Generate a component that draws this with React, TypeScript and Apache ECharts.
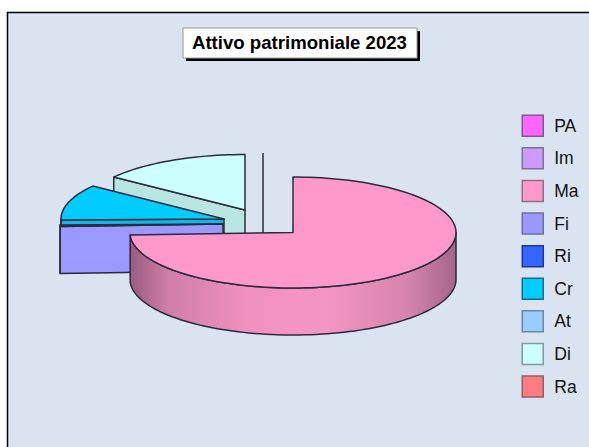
import React, { useEffect, useRef } from "react";
import * as echarts from "echarts";

const categories = ["PA", "Im", "Ma", "Fi", "Ri", "Cr", "At", "Di", "Ra"];
const values = [0, 0, 74.3, 0.4, 0, 10.4, 0, 14.9, 0];
const colors = ["#ff66ff", "#cc99ff", "#ff99cc", "#9999ff", "#3366ff", "#00ccff", "#99ccff", "#ccffff", "#ff7c80"];
const legendBorders = ["#7a5a88", "#7f7090", "#8f7088", "#6f6f98", "#22359a", "#1a6a8a", "#6f86a0", "#7f9aa0", "#8f6068"];
const chartTitle = "Attivo patrimoniale 2023";

const CX = 293;
const CY = 232.5;
const RX = 163;
const RY = 55.5;
const DEPTH = 47;
const EDGE = "#2b2b3d";

// drawing style of each visible slice: displacement, wall colour, stacking
const sliceStyle: Record<string, { dx: number; dy: number; wall: any; z: number }> = {
  Di: { dx: -48, dy: -22.5, wall: "#b8e4e2", z: 2 },
  Ra: { dx: -30, dy: -24, wall: "#ff7c80", z: 3 },
  Cr: { dx: -69, dy: -13.5, wall: "#10b8e8", z: 4 },
  Fi: { dx: -70, dy: -8.5, wall: "#9999ff", z: 5 },
  Ma: {
    dx: 0,
    dy: 0,
    z: 6,
    wall: new echarts.graphic.LinearGradient(0, 0, 1, 0, [
      { offset: 0, color: "#9a5c7e" },
      { offset: 0.12, color: "#cf7fa9" },
      { offset: 0.35, color: "#f090bf" },
      { offset: 0.6, color: "#f496c4" },
      { offset: 0.85, color: "#d684ae" },
      { offset: 1, color: "#a5658a" },
    ]),
  },
};

const total = values.reduce((a, b) => a + b, 0);
const rad = (d: number) => (d * Math.PI) / 180;

function rim(cx: number, cy: number, deg: number): number[] {
  return [cx + RX * Math.sin(rad(deg)), cy - RY * Math.cos(rad(deg))];
}

function arcPoints(cx: number, cy: number, from: number, to: number): number[][] {
  const pts: number[][] = [];
  const n = Math.max(1, Math.ceil((to - from) / 2));
  for (let i = 0; i <= n; i++) pts.push(rim(cx, cy, from + ((to - from) * i) / n));
  return pts;
}

function makeRenderItem(index: number) {
  return (_params: any, api: any) => {
    const name = categories[index];
    const st = sliceStyle[name];
    if (!st) return null;
    const before = values.slice(0, index).reduce((a, b) => a + b, 0);
    const start = (before / total) * 360;
    const end = start + (Number(api.value(0)) / total) * 360;
    const cx = CX + st.dx;
    const cy = CY + st.dy;
    const fill = colors[index];
    const children: any[] = [];
    const poly = (points: number[][], f: any) =>
      children.push({
        type: "polygon",
        shape: { points },
        style: { fill: f, stroke: EDGE, lineWidth: 1.5, lineJoin: "round" },
        silent: true,
      });

    if (end === start) {
      const p = rim(cx, cy, start);
      children.push({
        type: "line",
        shape: { x1: p[0], y1: p[1], x2: p[0], y2: cy + DEPTH },
        style: { stroke: EDGE, lineWidth: 1.5 },
        silent: true,
      });
      return { type: "group", children };
    }

    if (Math.sin(rad(start)) < -0.01) {
      const p = rim(cx, cy, start);
      poly(
        [
          [cx, cy],
          p,
          [p[0], p[1] + DEPTH],
          [cx, cy + DEPTH],
        ],
        st.wall
      );
    }
    const wFrom = Math.max(start, 90);
    const wTo = Math.min(end, 270);
    if (wTo > wFrom) {
      const top = arcPoints(cx, cy, wFrom, wTo);
      const bottom = top.map((p) => [p[0], p[1] + DEPTH]).reverse();
      poly(top.concat(bottom), st.wall);
    }
    poly([[cx, cy], ...arcPoints(cx, cy, start, end)], fill);
    return { type: "group", children };
  };
}

export default function App() {
  const ref = useRef<HTMLDivElement>(null);
  useEffect(() => {
    const chart = echarts.init(ref.current!, undefined, { renderer: "svg" });
    chart.setOption({
      animation: false,
      color: colors,
      title: {
        text: chartTitle,
        left: 192,
        top: 33,
        padding: 0,
        textStyle: { fontFamily: "Liberation Sans", fontWeight: "bold", fontSize: 18.6, color: "#000" },
      },
      legend: {
        orient: "vertical",
        left: 521.5,
        top: 114.5,
        itemWidth: 21,
        itemHeight: 21,
        itemGap: 10.1,
        icon: "rect",
        selectedMode: false,
        padding: 0,
        textStyle: { fontFamily: "Liberation Sans", fontSize: 17.5, color: "#111", padding: [0, 0, 0, 6] },
        data: categories.map((name, i) => ({
          name,
          itemStyle: { color: colors[i], borderColor: legendBorders[i], borderWidth: 1.5 },
        })),
      },
      graphic: [
        {
          type: "rect",
          z: 0,
          shape: { x: 7.5, y: 12.5, width: 600, height: 450 },
          style: { fill: "#dae4f0", stroke: "#000", lineWidth: 1.5 },
          silent: true,
        },
        {
          type: "rect",
          z: 1,
          shape: { x: 186, y: 31, width: 234, height: 30 },
          style: { fill: "#000" },
          silent: true,
        },
        {
          type: "rect",
          z: 1,
          shape: { x: 183, y: 28, width: 234, height: 30 },
          style: { fill: "#fff", stroke: "#999", lineWidth: 1 },
          silent: true,
        },
      ],
      series: categories.map((name, i) => ({
        type: "custom",
        name,
        coordinateSystem: "none",
        z: sliceStyle[name] ? sliceStyle[name].z : 2,
        silent: true,
        itemStyle: { color: colors[i] },
        data: [[values[i]]],
        renderItem: makeRenderItem(i),
      })),
    });
    return () => chart.dispose();
  }, []);
  return <div ref={ref} style={{ position: "absolute", left: 0, top: 0, width: 589, height: 447 }} />;
}
